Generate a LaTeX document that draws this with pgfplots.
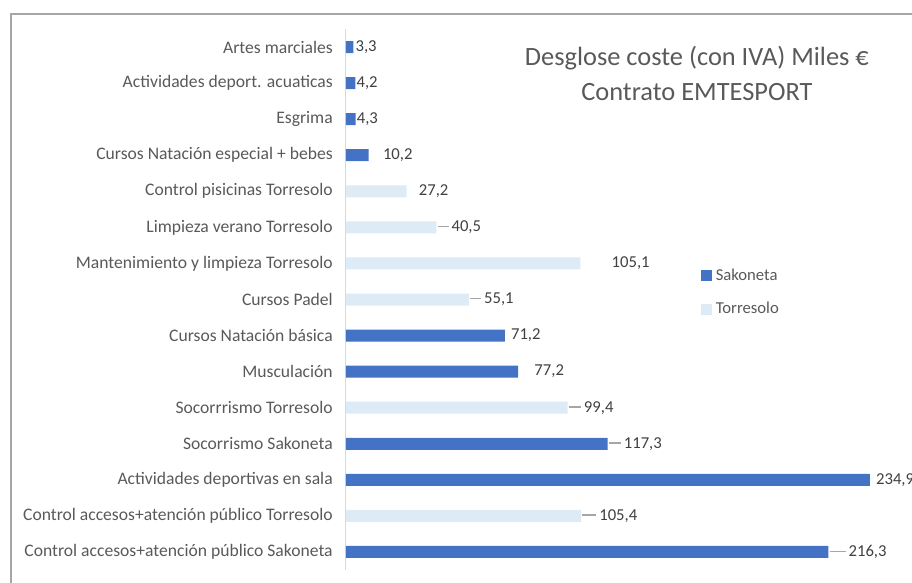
\documentclass[border=0pt]{standalone}
\usepackage{fontspec}
\setmainfont{Carlito}
\usepackage{pgfplots}
\usepackage{pgfplotstable}
\pgfplotsset{compat=1.18}

\definecolor{sako}{HTML}{4472C4}
\definecolor{torre}{HTML}{DDEBF7}
\definecolor{txt}{HTML}{595959}
\definecolor{vtxt}{HTML}{404040}
\definecolor{leader}{HTML}{A6A6A6}
\definecolor{framegray}{HTML}{A6A6A6}
\definecolor{axisgray}{HTML}{D9D9D9}

% square legend marker, as in the spreadsheet
\pgfplotsset{sqlegend/.style={legend image code/.code={%
    \fill[##1] (0pt,-4.1pt) rectangle (8.25pt,4.15pt);}}}

% pos = row from the top; gap = label offset in px; lead = draw leader line
\pgfplotstableread{
pos val gap lead
0  3.3   2 0
1  4.2   1 0
2  4.3   1 0
3  10.2 14 0
8  71.2  6 0
9  77.2 16 0
11 117.3 16 1
12 234.9  6 0
14 216.3 20 1
}\sakoneta

\pgfplotstableread{
pos val gap lead
4  27.2  12 0
5  40.5  15 1
6  105.1 31 0
7  55.1  15 1
10 99.4  16 1
13 105.4 18 1
}\torresolo

\begin{document}
\begin{tikzpicture}
\begin{axis}[
    scale only axis,
    width=424.5pt, height=405.75pt,
    xbar, bar width=9pt, bar shift=0pt,
    sqlegend,
    xmin=0, xmax=253.8,
    ymin=-0.5, ymax=14.5, y dir=reverse,
    hide x axis,
    axis y line*=left,
    y axis line style={draw=axisgray, line width=0.75pt},
    ytick={0,...,14},
    major tick length=0pt,
    yticklabels={
        Artes marciales,
        Actividades deport. acuaticas,
        Esgrima,
        Cursos Natación especial + bebes,
        Control pisicinas Torresolo,
        Limpieza verano Torresolo,
        Mantenimiento y limpieza Torresolo,
        Cursos Padel,
        Cursos Natación básica,
        Musculación,
        Socorrrismo Torresolo,
        Socorrismo Sakoneta,
        Actividades deportivas en sala,
        Control accesos+atención público Torresolo,
        Control accesos+atención público Sakoneta},
    yticklabel style={font=\fontsize{13.2}{15}\selectfont, text=txt, inner sep=0pt, xshift=-9.75pt},
    clip=false,
    point meta=x,
    visualization depends on={\thisrow{gap}\as\gap},
    visualization depends on={\thisrow{lead}\as\lead},
    nodes near coords={%
        \pgfmathparse{0.75*(\gap-4)*\lead}\edef\lw{\pgfmathresult}%
        \pgfmathparse{2.25*\lead}\edef\ls{\pgfmathresult}%
        \textcolor{leader}{\rule[0.27em]{\lw pt}{1.1pt}}\hspace{\ls pt}%
        \pgfmathprintnumber[fixed,precision=1,fixed zerofill,use comma,assume math mode=true]{\pgfplotspointmeta}},
    every node near coord/.append style={anchor=west, inner sep=0pt,
        font=\fontsize{12.5}{15}\selectfont, text=vtxt,
        xshift={0.75pt*((1-\lead)*\gap+\lead)}},
    title={Desglose coste (con IVA) Miles €\\Contrato EMTESPORT},
    title style={at={(0.62,0.903)}, anchor=center, align=center,
        font=\fontsize{19.8}{26.25}\selectfont, text=txt},
    legend style={at={(0.627,0.56)}, anchor=north west, draw=none, fill=none,
        inner xsep=0pt, inner ysep=0pt,
        font=\fontsize{12.5}{15}\selectfont, text=txt, row sep=12.5pt,
        nodes={inner sep=1.2pt},
        /tikz/every odd column/.append style={column sep=1.5pt}},
    legend cell align=left,
]
\addplot[fill=sako, draw=none] table[x=val, y=pos] {\sakoneta};
\addlegendentry{Sakoneta}
\addplot[fill=torre, draw=none] table[x=val, y=pos] {\torresolo};
\addlegendentry{Torresolo}
\end{axis}
% chart frame, cut by the page edges
\draw[framegray, line width=1.2pt]
    ([xshift=-251.25pt,yshift=-20pt]current axis.south west)
    -- ([xshift=-251.25pt,yshift=11.25pt]current axis.north west)
    -- ([xshift=20pt,yshift=11.25pt]current axis.north east);
\pgfresetboundingbox
\path[use as bounding box] ([xshift=-259.5pt,yshift=-9pt]current axis.south west)
    rectangle ([yshift=21.75pt]current axis.north east);
\end{tikzpicture}
\end{document}
